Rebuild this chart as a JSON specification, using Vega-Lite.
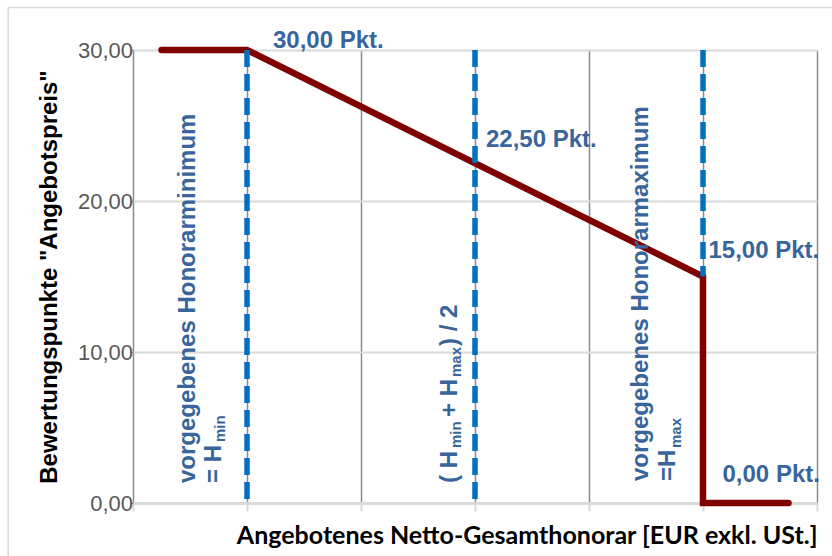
{
  "$schema": "https://vega.github.io/schema/vega-lite/v6.json",
  "width": 684,
  "height": 453,
  "autosize": "none",
  "padding": {"left": 133, "top": 50, "right": 15, "bottom": 53},
  "background": "white",
  "config": {"view": {"stroke": null}, "font": "Liberation Sans"},
  "layer": [
    {
      "data": {"values": [
        {"o": 1, "x": 0.25, "y": 30},
        {"o": 2, "x": 1, "y": 30},
        {"o": 3, "x": 5, "y": 15},
        {"o": 4, "x": 5, "y": 0},
        {"o": 5, "x": 5.75, "y": 0}
      ]},
      "mark": {"type": "line", "color": "#7f0000", "strokeWidth": 6.5, "strokeCap": "round", "strokeJoin": "miter"},
      "encoding": {
        "order": {"field": "o", "type": "quantitative"},
        "x": {
          "field": "x", "type": "quantitative",
          "scale": {"domain": [0, 6], "nice": false},
          "axis": {
            "title": "Angebotenes Netto-Gesamthonorar [EUR exkl. USt.]",
            "values": [0, 1, 2, 3, 4, 5, 6],
            "labels": false,
            "grid": true, "gridColor": "#8c8c8c", "gridWidth": 1.5,
            "domainColor": "#d9d9d9", "domainWidth": 3,
            "tickColor": "#d9d9d9", "tickWidth": 2, "tickSize": 8,
            "titleFont": "Lato", "titleFontSize": 25, "titleFontWeight": "bold", "titleColor": "#000000",
            "titleAnchor": "end", "titlePadding": 11
          }
        },
        "y": {
          "field": "y", "type": "quantitative",
          "scale": {"domain": [0, 30], "nice": false},
          "axis": {
            "title": "Bewertungspunkte \"Angebotspreis\"",
            "values": [0, 10, 20, 30],
            "labelExpr": "replace(format(datum.value, '.2f'), '.', ',')",
            "labelFont": "Liberation Sans", "labelFontSize": 22, "labelColor": "#595959",
            "labelPadding": -2.5,
            "grid": true, "gridColor": "#d9d9d9", "gridWidth": 2,
            "domain": false,
            "tickColor": "#8c8c8c", "tickSize": 3, "tickWidth": 1.5,
            "titleFont": "Liberation Sans", "titleFontSize": 24, "titleFontWeight": "bold", "titleColor": "#000000",
            "titlePadding": 16
          }
        }
      }
    },
    {
      "data": {"values": [{"x0": -1.095, "x1": 6.5, "y0": 32.82, "y1": -5}]},
      "mark": {"type": "rect", "fill": null, "stroke": "#d9d9d9", "strokeWidth": 1.5, "clip": false},
      "encoding": {
        "x": {"field": "x0", "type": "quantitative"},
        "x2": {"field": "x1"},
        "y": {"field": "y0", "type": "quantitative"},
        "y2": {"field": "y1"}
      }
    },
    {
      "data": {"values": [{"x": 1, "top": 30, "bottom": 0}, {"x": 3, "top": 30, "bottom": 0}, {"x": 5, "top": 30, "bottom": 15}]},
      "mark": {"type": "rule", "color": "#0070c0", "strokeWidth": 5.5, "strokeDash": [17, 7]},
      "encoding": {
        "x": {"field": "x", "type": "quantitative"},
        "y": {"field": "top", "type": "quantitative"},
        "y2": {"field": "bottom"}
      }
    },
    {
      "data": {"values": [{"x": 1, "y": 0, "t": "vorgegebenes Honorarminimum"}]},
      "mark": {"type": "text", "angle": 270, "align": "left", "baseline": "alphabetic", "font": "Liberation Sans", "fontWeight": "bold", "fontSize": 24, "color": "#38659b", "dx": 20, "dy": -52},
      "encoding": {"x": {"field": "x", "type": "quantitative"}, "y": {"field": "y", "type": "quantitative"}, "text": {"field": "t"}}
    },
    {
      "data": {"values": [{"x": 1, "y": 0, "t": "= H"}]},
      "mark": {"type": "text", "angle": 270, "align": "left", "baseline": "alphabetic", "font": "Liberation Sans", "fontWeight": "bold", "fontSize": 24, "color": "#38659b", "dx": 20, "dy": -26.5},
      "encoding": {"x": {"field": "x", "type": "quantitative"}, "y": {"field": "y", "type": "quantitative"}, "text": {"field": "t"}}
    },
    {
      "data": {"values": [{"x": 1, "y": 0, "t": "min"}]},
      "mark": {"type": "text", "angle": 270, "align": "left", "baseline": "alphabetic", "font": "Liberation Sans", "fontWeight": "bold", "fontSize": 15, "color": "#38659b", "dx": 61, "dy": -22},
      "encoding": {"x": {"field": "x", "type": "quantitative"}, "y": {"field": "y", "type": "quantitative"}, "text": {"field": "t"}}
    },
    {
      "data": {"values": [{"x": 5, "y": 0, "t": "vorgegebenes Honorarmaximum"}]},
      "mark": {"type": "text", "angle": 270, "align": "left", "baseline": "alphabetic", "font": "Liberation Sans", "fontWeight": "bold", "fontSize": 24, "color": "#38659b", "dx": 22, "dy": -55},
      "encoding": {"x": {"field": "x", "type": "quantitative"}, "y": {"field": "y", "type": "quantitative"}, "text": {"field": "t"}}
    },
    {
      "data": {"values": [{"x": 5, "y": 0, "t": "=H"}]},
      "mark": {"type": "text", "angle": 270, "align": "left", "baseline": "alphabetic", "font": "Liberation Sans", "fontWeight": "bold", "fontSize": 24, "color": "#38659b", "dx": 22, "dy": -28},
      "encoding": {"x": {"field": "x", "type": "quantitative"}, "y": {"field": "y", "type": "quantitative"}, "text": {"field": "t"}}
    },
    {
      "data": {"values": [{"x": 5, "y": 0, "t": "max"}]},
      "mark": {"type": "text", "angle": 270, "align": "left", "baseline": "alphabetic", "font": "Liberation Sans", "fontWeight": "bold", "fontSize": 15, "color": "#38659b", "dx": 55, "dy": -22},
      "encoding": {"x": {"field": "x", "type": "quantitative"}, "y": {"field": "y", "type": "quantitative"}, "text": {"field": "t"}}
    },
    {
      "data": {"values": [{"x": 3, "y": 0, "t": "( H"}]},
      "mark": {"type": "text", "angle": 270, "align": "left", "baseline": "alphabetic", "font": "Liberation Sans", "fontWeight": "bold", "fontSize": 24, "color": "#38659b", "dx": 20, "dy": -18.5},
      "encoding": {"x": {"field": "x", "type": "quantitative"}, "y": {"field": "y", "type": "quantitative"}, "text": {"field": "t"}}
    },
    {
      "data": {"values": [{"x": 3, "y": 0, "t": "min"}]},
      "mark": {"type": "text", "angle": 270, "align": "left", "baseline": "alphabetic", "font": "Liberation Sans", "fontWeight": "bold", "fontSize": 15, "color": "#38659b", "dx": 55, "dy": -14},
      "encoding": {"x": {"field": "x", "type": "quantitative"}, "y": {"field": "y", "type": "quantitative"}, "text": {"field": "t"}}
    },
    {
      "data": {"values": [{"x": 3, "y": 0, "t": "+ H"}]},
      "mark": {"type": "text", "angle": 270, "align": "left", "baseline": "alphabetic", "font": "Liberation Sans", "fontWeight": "bold", "fontSize": 24, "color": "#38659b", "dx": 86, "dy": -18.5},
      "encoding": {"x": {"field": "x", "type": "quantitative"}, "y": {"field": "y", "type": "quantitative"}, "text": {"field": "t"}}
    },
    {
      "data": {"values": [{"x": 3, "y": 0, "t": "max"}]},
      "mark": {"type": "text", "angle": 270, "align": "left", "baseline": "alphabetic", "font": "Liberation Sans", "fontWeight": "bold", "fontSize": 15, "color": "#38659b", "dx": 126, "dy": -14},
      "encoding": {"x": {"field": "x", "type": "quantitative"}, "y": {"field": "y", "type": "quantitative"}, "text": {"field": "t"}}
    },
    {
      "data": {"values": [{"x": 3, "y": 0, "t": ") / 2"}]},
      "mark": {"type": "text", "angle": 270, "align": "left", "baseline": "alphabetic", "font": "Liberation Sans", "fontWeight": "bold", "fontSize": 24, "color": "#38659b", "dx": 157, "dy": -18.5},
      "encoding": {"x": {"field": "x", "type": "quantitative"}, "y": {"field": "y", "type": "quantitative"}, "text": {"field": "t"}}
    },
    {
      "data": {"values": [{"x": 1, "y": 30, "t": "30,00 Pkt."}]},
      "mark": {"type": "text", "align": "left", "baseline": "alphabetic", "font": "Liberation Sans", "fontWeight": "bold", "fontSize": 24, "color": "#38659b", "dx": 26, "dy": -2},
      "encoding": {"x": {"field": "x", "type": "quantitative"}, "y": {"field": "y", "type": "quantitative"}, "text": {"field": "t"}}
    },
    {
      "data": {"values": [{"x": 3, "y": 22.5, "t": "22,50 Pkt."}]},
      "mark": {"type": "text", "align": "left", "baseline": "alphabetic", "font": "Liberation Sans", "fontWeight": "bold", "fontSize": 24, "color": "#38659b", "dx": 11, "dy": -16},
      "encoding": {"x": {"field": "x", "type": "quantitative"}, "y": {"field": "y", "type": "quantitative"}, "text": {"field": "t"}}
    },
    {
      "data": {"values": [{"x": 5, "y": 15, "t": "15,00 Pkt."}]},
      "mark": {"type": "text", "align": "left", "baseline": "alphabetic", "font": "Liberation Sans", "fontWeight": "bold", "fontSize": 24, "color": "#38659b", "dx": 5.5, "dy": -18.5},
      "encoding": {"x": {"field": "x", "type": "quantitative"}, "y": {"field": "y", "type": "quantitative"}, "text": {"field": "t"}}
    },
    {
      "data": {"values": [{"x": 5, "y": 0, "t": "0,00 Pkt."}]},
      "mark": {"type": "text", "align": "left", "baseline": "alphabetic", "font": "Liberation Sans", "fontWeight": "bold", "fontSize": 24, "color": "#38659b", "dx": 19.5, "dy": -21},
      "encoding": {"x": {"field": "x", "type": "quantitative"}, "y": {"field": "y", "type": "quantitative"}, "text": {"field": "t"}}
    }
  ]
}
